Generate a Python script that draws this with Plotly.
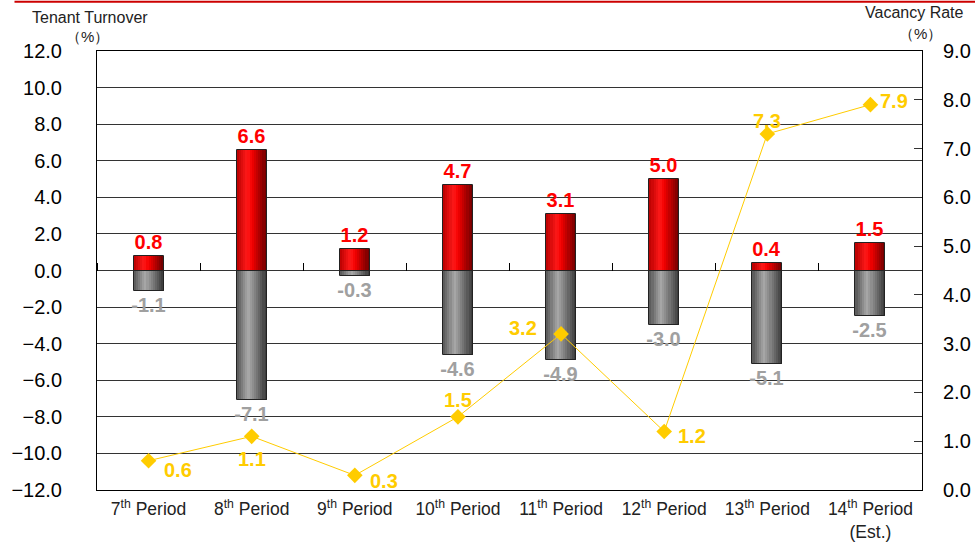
import plotly.graph_objects as go

# Period categories and their axis labels
periods = ["P7", "P8", "P9", "P10", "P11", "P12", "P13", "P14"]
period_labels = [
    "7<sup>th</sup> Period", "8<sup>th</sup> Period", "9<sup>th</sup> Period",
    "10<sup>th</sup> Period", "11<sup>th</sup> Period", "12<sup>th</sup> Period",
    "13<sup>th</sup> Period", "14<sup>th</sup> Period<br>(Est.)",
]

# Tenant turnover (%): move-ins (positive) and move-outs (negative)
move_in = [0.8, 6.6, 1.2, 4.7, 3.1, 5.0, 0.4, 1.5]
move_out = [-1.1, -7.1, -0.3, -4.6, -4.9, -3.0, -5.1, -2.5]

# Vacancy rate (%)
vacancy = [0.6, 1.1, 0.3, 1.5, 3.2, 1.2, 7.3, 7.9]
# label offsets (px) from each vacancy marker
vacancy_label_dx = [29, 0, 29, 0, -38, 28, 0, 24]
vacancy_label_dy = [-9, -23, -6, 17, 6, -5, 13, 4]

left_ticks = [-12, -10, -8, -6, -4, -2, 0, 2, 4, 6, 8, 10, 12]
right_ticks = [0, 1, 2, 3, 4, 5, 6, 7, 8, 9]

FONT = "Liberation Sans, Arial, sans-serif"
BAR_W = 0.29
N_STRIPS = 14

RED_STOPS = [(0.0, (185, 0, 0)), (0.35, (255, 25, 25)), (0.5, (245, 0, 0)), (1.0, (105, 0, 0))]
GRAY_STOPS = [(0.0, (85, 85, 85)), (0.38, (168, 168, 168)), (0.55, (140, 140, 140)), (1.0, (55, 55, 55))]


def shade(stops, t):
    for (t0, c0), (t1, c1) in zip(stops[:-1], stops[1:]):
        if t0 <= t <= t1:
            f = (t - t0) / (t1 - t0)
            r, g, b = (round(a + (b_ - a) * f) for a, b_ in zip(c0, c1))
            return f"rgb({r},{g},{b})"
    r, g, b = stops[-1][1]
    return f"rgb({r},{g},{b})"


fig = go.Figure()

# Cylinder-style shading: each bar is built from narrow vertical strips
step = BAR_W / N_STRIPS
for values, stops in ((move_in, RED_STOPS), (move_out, GRAY_STOPS)):
    for i in range(N_STRIPS):
        t = (i + 0.5) / N_STRIPS
        fig.add_trace(go.Bar(
            x=periods, y=values,
            width=step * 1.25 if i < N_STRIPS - 1 else step,
            offset=-BAR_W / 2 + i * step,
            marker=dict(color=shade(stops, t), line=dict(width=0)),
            hoverinfo="skip", showlegend=False,
        ))

# Bar outlines and value labels
for values, color in ((move_in, "#ff0000"), (move_out, "#a0a0a0")):
    fig.add_trace(go.Bar(
        x=periods, y=values, width=BAR_W, offset=-BAR_W / 2,
        marker=dict(color="rgba(0,0,0,0)", line=dict(color="#222222", width=1)),
        text=[f"<b>{v:.1f}</b>" for v in values],
        textposition="outside", constraintext="none", cliponaxis=False,
        textfont=dict(family=FONT, size=20, color=color),
        showlegend=False,
    ))

# Vacancy rate line
fig.add_trace(go.Scatter(
    x=periods, y=vacancy, yaxis="y2", mode="lines+markers",
    line=dict(color="#ffcc00", width=1),
    marker=dict(symbol="diamond", size=12, color="#ffcc00"),
    cliponaxis=False, showlegend=False,
))

# Hidden trace carrying the boundary ticks on the zero line
fig.add_trace(go.Scatter(
    x=periods, y=[0] * len(periods), xaxis="x2", mode="markers",
    marker=dict(size=0, opacity=0), hoverinfo="skip", showlegend=False,
))

annotations = [
    dict(text=f"<b>{v:.1f}</b>", x=p, y=v, xref="x", yref="y2",
         xshift=dx, yshift=dy, showarrow=False,
         font=dict(family=FONT, size=20, color="#ffcc00"))
    for p, v, dx, dy in zip(periods, vacancy, vacancy_label_dx, vacancy_label_dy)
]
annotations += [
    dict(text="Tenant Turnover", xref="paper", yref="paper", x=-0.008, y=1.077,
         xanchor="center", yanchor="middle", showarrow=False,
         font=dict(family=FONT, size=16, color="#222222")),
    dict(text="（%）", xref="paper", yref="paper", x=-0.012, y=1.032,
         xanchor="center", yanchor="middle", showarrow=False,
         font=dict(family=FONT, size=15, color="#222222")),
    dict(text="Vacancy Rate", xref="paper", yref="paper", x=1.0533, y=1.0866,
         xanchor="right", yanchor="middle", showarrow=False,
         font=dict(family=FONT, size=16, color="#222222")),
    dict(text="（%）", xref="paper", yref="paper", x=0.9976, y=1.041,
         xanchor="center", yanchor="middle", showarrow=False,
         font=dict(family=FONT, size=15, color="#222222")),
]

fig.update_layout(
    width=975, height=542,
    margin=dict(l=97, r=53, t=51, b=52),
    paper_bgcolor="white", plot_bgcolor="white",
    barmode="overlay", bargap=0,
    font=dict(family=FONT, color="black"),
    xaxis=dict(
        type="category", categoryorder="array", categoryarray=periods,
        range=[-0.5, len(periods) - 0.5],
        tickvals=periods, ticktext=period_labels,
        tickfont=dict(size=17.5, color="#222222"),
        ticklabelstandoff=3, automargin=False,
        showgrid=False, ticks="", showline=True, mirror=True,
        linecolor="black", linewidth=1,
    ),
    xaxis2=dict(
        type="category", categoryorder="array", categoryarray=periods,
        range=[-0.5, len(periods) - 0.5],
        overlaying="x", anchor="free", position=0.5, side="top",
        ticks="outside", tickson="boundaries", ticklen=8, tickcolor="black",
        showticklabels=False, showgrid=False, showline=False, zeroline=False,
        automargin=False,
    ),
    yaxis=dict(
        range=[-12, 12], tickvals=left_ticks, tickformat=".1f",
        tickfont=dict(size=20, color="black"),
        showgrid=True, gridcolor="#333333", gridwidth=1,
        zeroline=True, zerolinecolor="#333333", zerolinewidth=1,
        ticks="inside", ticklen=6, tickcolor="#333333",
        showline=True, linecolor="black", linewidth=1,
        ticklabelstandoff=30, automargin=False,
    ),
    yaxis2=dict(
        range=[0, 9], tickvals=right_ticks, tickformat=".1f",
        overlaying="y", side="right",
        tickfont=dict(size=20, color="black"),
        showgrid=False, zeroline=False,
        ticks="inside", ticklen=8, tickcolor="#333333",
        showline=True, linecolor="black", linewidth=1,
        ticklabelstandoff=16, automargin=False,
    ),
    annotations=annotations,
    shapes=[
        dict(type="line", xref="paper", yref="paper", x0=-0.1, x1=1.07,
             y0=1.112, y1=1.112, line=dict(color="#cc0000", width=2)),
    ],
)

fig.write_html("out.html")
